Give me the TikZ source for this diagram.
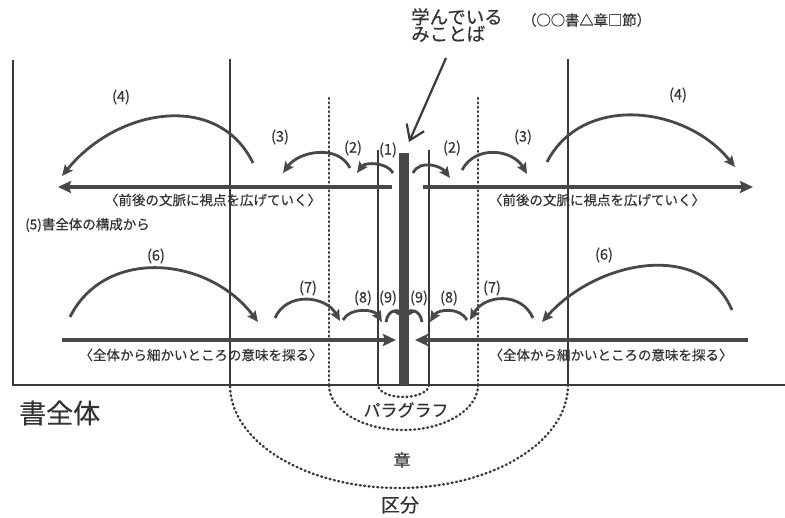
\documentclass[tikz,border=0pt]{standalone}
\usepackage{fontspec}
\setmainfont{Noto Sans CJK JP}[FakeBold=0.4]
\usetikzlibrary{arrows.meta}
\definecolor{ink}{HTML}{3A3A3A}
\definecolor{arr}{HTML}{484848}
\definecolor{txt}{HTML}{333333}
\tikzset{
  frame/.style={draw=ink, line width=2pt},
  thinv/.style={draw=ink, line width=1.6pt},
  dots/.style={draw=ink, line width=2.4pt, line cap=round, dash pattern=on 1pt off 3.4pt},
  harrow/.style={draw=arr, line width=3.4pt, -{Stealth[length=13pt,width=12pt,inset=2pt]}},
  hop/.style={draw=arr, line width=2.8pt, -{Stealth[length=11pt,width=10pt,inset=2pt]}},
  lbl/.style={font=\fontsize{14.5}{14.5}\selectfont, text=txt, inner sep=0pt},
  captxt/.style={font=\fontsize{13.5}{13.5}\selectfont, text=txt, inner sep=0pt},
}
\begin{document}
\begin{tikzpicture}[x=1pt,y=-1pt]
\useasboundingbox[fill=white] (0,0) rectangle (785,518);

% frame
\draw[frame] (13,60) -- (13,385) -- (785,385);
\draw[frame] (230,59) -- (230,385);
\draw[frame] (568,59) -- (568,385);
% dotted verticals
\draw[dots] (329,98) -- (329,385);
\draw[dots] (478,98) -- (478,385);
% thin verticals
\draw[thinv] (378,150) -- (378,385);
\draw[thinv] (429,150) -- (429,385);
% dotted half ellipses
\begin{scope}
\clip (0,387) rectangle (785,518);
\draw[dots] (403.5,385) ellipse[x radius=25.5, y radius=12];
\draw[dots] (403.5,385) ellipse[x radius=74.5, y radius=45];
\draw[dots] (399,385) ellipse[x radius=169, y radius=103];
\end{scope}

% coordinates
\coordinate (tls) at (392,187);  \coordinate (tle) at (58,187);
\coordinate (trs) at (423,187);  \coordinate (tre) at (753,187);
\coordinate (bls) at (62,340);   \coordinate (ble) at (396,340);
\coordinate (brs) at (748,340);  \coordinate (bre) at (415,340);

\coordinate (l1s) at (393,173); \coordinate (l1e) at (357,173);
\coordinate (l2s) at (350,168); \coordinate (l2e) at (283,173);
\coordinate (l3s) at (253,163); \coordinate (l3e) at (62,176);
\coordinate (r1s) at (413,173); \coordinate (r1e) at (450,178);
\coordinate (r2s) at (462,170); \coordinate (r2e) at (527,174);
\coordinate (r3s) at (547,162); \coordinate (r3e) at (735,167);

\coordinate (b6s) at (70,317);  \coordinate (b6e) at (258,322);
\coordinate (b7s) at (275,318); \coordinate (b7e) at (340,321);
\coordinate (b8s) at (343,320); \coordinate (b8e) at (382,322);
\coordinate (b9s) at (386,322); \coordinate (b9e) at (404,318);
\coordinate (c9s) at (422,322); \coordinate (c9e) at (404,318);
\coordinate (c8s) at (467,320); \coordinate (c8e) at (430,322);
\coordinate (c7s) at (533,318); \coordinate (c7e) at (470,320);
\coordinate (c6s) at (732,310); \coordinate (c6e) at (542,322);

% horizontal arrows
\draw[harrow] (tls) -- (tle);
\draw[harrow] (trs) -- (tre);
\draw[harrow] (bls) -- (ble);
\draw[harrow] (brs) -- (bre);

% hops top
\draw[hop] (l1s) .. controls +(-6,-11) and +(8,-11) .. (l1e);
\draw[hop] (l2s) .. controls +(-12,-24) and +(16,-22) .. (l2e);
\draw[hop] (l3s) .. controls +(-35,-72) and +(55,-68) .. (l3e);
\draw[hop] (r1s) .. controls +(7,-14) and +(-9,-12) .. (r1e);
\draw[hop] (r2s) .. controls +(14,-26) and +(-14,-24) .. (r2e);
\draw[hop] (r3s) .. controls +(35,-68) and +(-50,-62) .. (r3e);
% hops bottom
\draw[hop] (b6s) .. controls +(35,-70) and +(-50,-66) .. (b6e);
\draw[hop] (b7s) .. controls +(12,-27) and +(-14,-25) .. (b7e);
\draw[hop] (b8s) .. controls +(7,-13) and +(-8,-13) .. (b8e);
\draw[hop] (b9s) .. controls +(2,-13) and +(-6,-8) .. (b9e);
\draw[hop] (c9s) .. controls +(-2,-13) and +(6,-8) .. (c9e);
\draw[hop] (c8s) .. controls +(-7,-13) and +(8,-13) .. (c8e);
\draw[hop] (c7s) .. controls +(-12,-27) and +(14,-25) .. (c7e);
\draw[hop] (c6s) .. controls +(-30,-70) and +(55,-62) .. (c6e);

% central bar
\node[draw=none, fill=arr, minimum width=10pt, minimum height=232pt, inner sep=0pt, anchor=north] (bar) at (404,153) {};

% pointer arrow
\coordinate (ptr) at (446,58);
\coordinate (ptrtip) at (409,142);
\draw[draw=ink, line width=2.2pt, -{Straight Barb[length=14pt,width=19pt]}] (ptr) -- (ptrtip);

% texts
\node[anchor=north west, align=left, text=txt, inner sep=0pt, font=\fontsize{18.5}{17}\selectfont] (title) at (411,8) {学んでいる\\みことば};
\node[captxt, anchor=west, font=\fontsize{14.3}{14.3}\selectfont] (sub) at (522,20) {（○○書△章□節）};

\node[lbl] (n4l) at (121,97) {(4)};
\node[lbl] (n3l) at (280,137) {(3)};
\node[lbl] (n2l) at (353,148) {(2)};
\node[lbl] (n1) at (388,150) {(1)};
\node[lbl] (n2r) at (452,148) {(2)};
\node[lbl] (n3r) at (523,137) {(3)};
\node[lbl] (n4r) at (678,95) {(4)};

\node[lbl] (n6l) at (156,256) {(6)};
\node[lbl] (n7l) at (308,288) {(7)};
\node[lbl] (n8l) at (363,298) {(8)};
\node[lbl] (n9l) at (388,298) {(9)};
\node[lbl] (n9r) at (419,298) {(9)};
\node[lbl] (n8r) at (449,298) {(8)};
\node[lbl] (n7r) at (492,288) {(7)};
\node[lbl] (n6r) at (604,255) {(6)};

\node[captxt] (tl) at (213,200) {〈前後の文脈に視点を広げていく〉};
\node[captxt] (tr) at (597,200) {〈前後の文脈に視点を広げていく〉};
\node[captxt, anchor=west] (n5) at (25,225) {(5)書全体の構成から};
\node[captxt] (bl) at (201,355) {〈全体から細かいところの意味を探る〉};
\node[captxt] (br) at (611,355) {〈全体から細かいところの意味を探る〉};

\node[text=txt, inner sep=0pt, font=\fontsize{27}{27}\selectfont, anchor=west] (whole) at (19,413) {書全体};
\node[text=txt, inner sep=0pt, font=\fontsize{17}{17}\selectfont] (para) at (406,410) {パラグラフ};
\node[text=txt, inner sep=0pt, font=\fontsize{17}{17}\selectfont] (chap) at (402,460) {章};
\node[text=txt, inner sep=0pt, font=\fontsize{19}{19}\selectfont] (sect) at (400,505) {区分};
\end{tikzpicture}
\end{document}
